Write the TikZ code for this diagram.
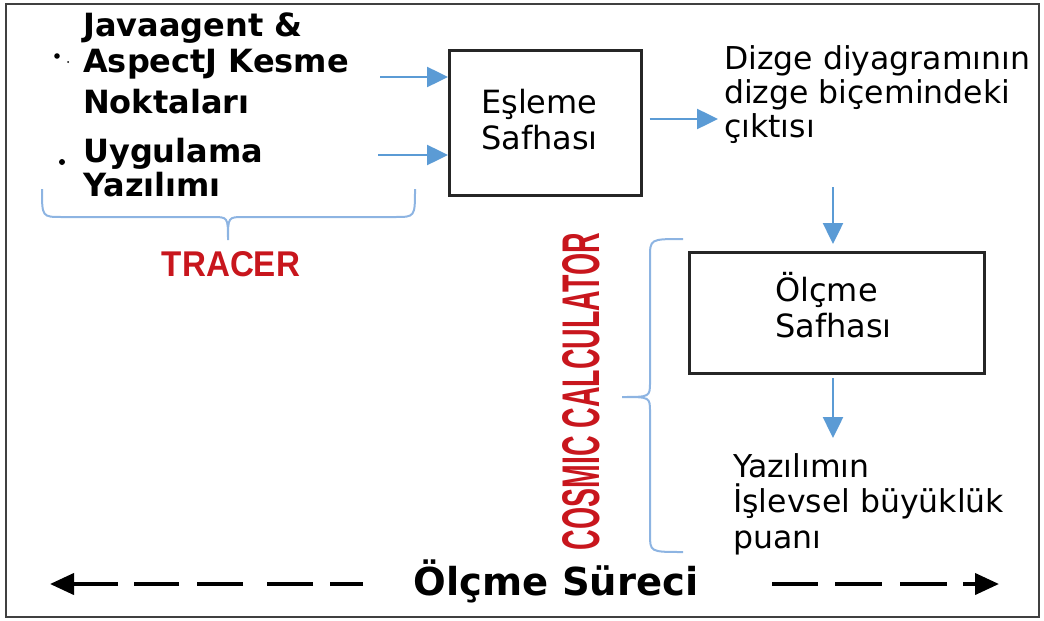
\documentclass[tikz,border=0pt]{standalone}
\usepackage{fontspec}
\setmainfont{DejaVu Sans}
\newfontfamily\condfont{Liberation Sans}
\usetikzlibrary{arrows.meta}
\definecolor{arrowblue}{HTML}{5B9BD5}
\definecolor{braceblue}{HTML}{8DB4E2}
\definecolor{labelred}{HTML}{C8161D}
\definecolor{framegray}{gray}{0.25}
\tikzset{
  txt/.style={inner sep=0pt, anchor=base west, align=left},
  boxnode/.style={draw=black!85, line width=2.6pt},
  bluearrow/.style={draw=arrowblue, line width=2.5pt, -{Triangle[length=21pt,width=20pt]}},
  bracestyle/.style={draw=braceblue, line width=2pt},
  dasharrow/.style={draw=black, line width=4pt, -{Triangle[length=24pt,width=21pt]}},
}
\begin{document}
\begin{tikzpicture}[x=1pt,y=-1pt]
\useasboundingbox (0,0) rectangle (1044,621);
\draw[framegray, line width=2.5pt] (6,4) rectangle (1039,617);

% left texts (anchor = baseline of last line)
\node[txt, font=\bfseries\fontsize{32}{36}\selectfont] (left1) at (83,113) {Javaagent \&\\AspectJ Kesme\\[5pt]Noktaları};
\node[txt, font=\bfseries\fontsize{32}{34}\selectfont] (left2) at (83,196) {Uygulama\\Yazılımı};
\fill (57,56) circle (2.8pt);
\fill (68,62) circle (1pt);
\fill (62,162) circle (3pt);

% boxes
\node[boxnode, minimum width=192pt, minimum height=145pt, anchor=north west] (esleme) at (448,49) {};
\node[txt, font=\fontsize{32}{36}\selectfont] (eslemetxt) at (481,149) {Eşleme\\Safhası};
\node[boxnode, minimum width=295pt, minimum height=121pt, anchor=north west] (olcme) at (688,251) {};
\node[txt, font=\fontsize{32}{36}\selectfont] (olcmetxt) at (775,337) {Ölçme\\Safhası};

% right texts
\node[txt, font=\fontsize{31.5}{34}\selectfont] (dizge) at (724,137) {Dizge diyagramının\\dizge biçemindeki\\çıktısı};
\node[txt, font=\fontsize{31.5}{35.5}\selectfont] (yazilim) at (733,548) {Yazılımın\\İşlevsel büyüklük\\puanı};

% arrows
\coordinate (a1) at (380,77);
\coordinate (a2) at (378,155);
\draw[bluearrow] (a1) -- (esleme.west |- a1);
\draw[bluearrow] (a2) -- (esleme.west |- a2);
\coordinate (a3) at (718,119);
\draw[bluearrow] (esleme.east |- a3) ++(7,0) -- (a3);
\coordinate (a4) at (833,187);
\coordinate (a4e) at (833,244);
\draw[bluearrow] (a4) -- (a4e);
\coordinate (a5) at (833,378);
\coordinate (a5e) at (833,438);
\draw[bluearrow] (a5) -- (a5e);

% braces
\draw[bracestyle] (42,189) .. controls (42,217) .. (62,217) -- (212,217)
  .. controls (228,217) .. (228,240) .. controls (228,217) .. (244,217)
  -- (395,217) .. controls (415,217) .. (415,189);
\draw[bracestyle] (683,239) .. controls (650,239) .. (650,258) -- (650,382)
  .. controls (650,397) .. (622,397) .. controls (650,397) .. (650,412)
  -- (650,534) .. controls (650,552) .. (683,552);

% red labels
\node[inner sep=0pt, text=labelred] (tracer) at (231,264.5) {\resizebox{138pt}{25pt}{\condfont\bfseries TRACER}};
\node[inner sep=0pt, text=labelred] (cosmic) at (581,391.5) {\rotatebox{90}{\resizebox{317pt}{37pt}{\condfont\bfseries COSMIC CALCULATOR}}};

% bottom
\node[inner sep=0pt, anchor=base, font=\bfseries\fontsize{38.5}{40}\selectfont] (surec) at (556,595) {Ölçme Süreci};
\coordinate (dl) at (363,584);
\coordinate (dle) at (50,584);
\draw[dasharrow, dash pattern=on 33pt off 17pt on 46pt off 24pt on 46pt off 18pt on 45pt off 16pt on 200pt] (dl) -- (dle);
\coordinate (dr) at (772,584);
\coordinate (dre) at (999,584);
\draw[dasharrow, dash pattern=on 46pt off 17pt on 47pt off 18pt on 47pt off 16pt on 200pt] (dr) -- (dre);
\end{tikzpicture}
\end{document}
